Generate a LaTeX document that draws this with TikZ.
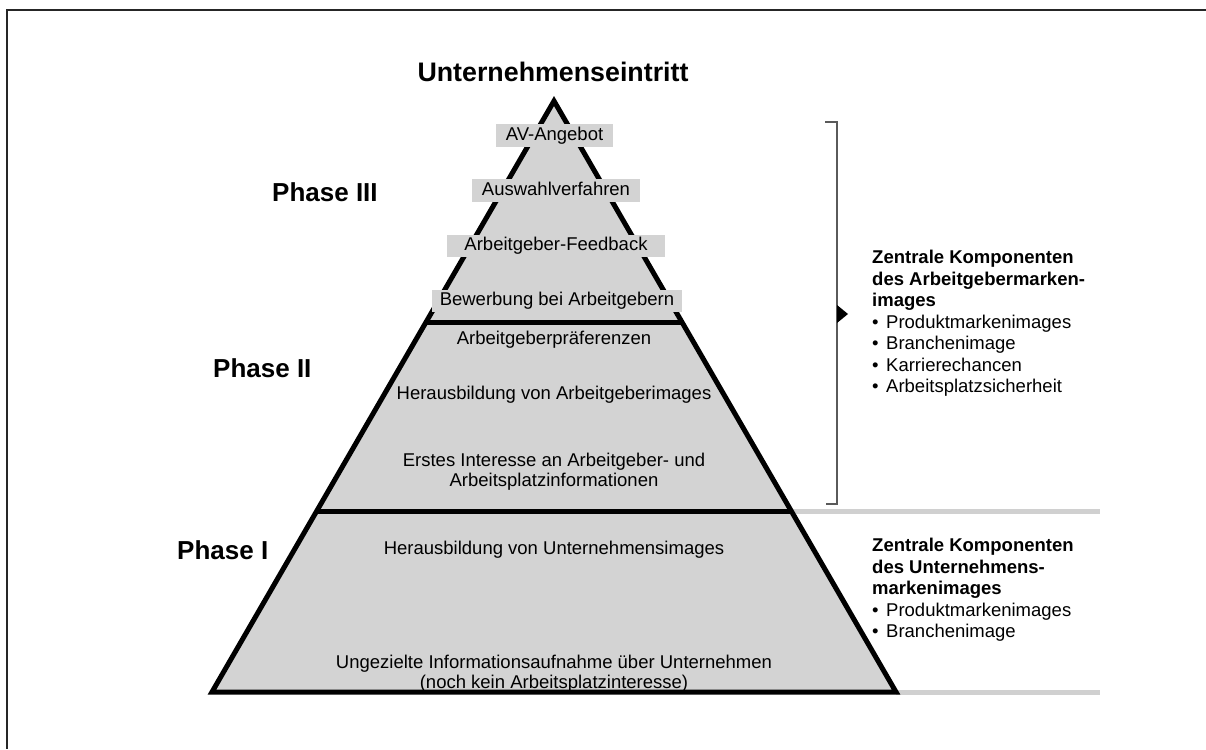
\documentclass[tikz,border=0pt]{standalone}
\usepackage{fontspec}
\setmainfont{Liberation Sans}
\usetikzlibrary{calc}
\definecolor{pyrfill}{RGB}{211,211,211}
\definecolor{sepgray}{RGB}{208,208,208}
\definecolor{bracketgray}{RGB}{90,90,90}
\begin{document}
\begin{tikzpicture}[x=1pt,y=-1pt,
  every node/.style={inner sep=0pt},
  body/.style={font=\fontsize{18.5}{20}\selectfont, align=center},
  stage/.style={font=\fontsize{18.5}{20}\selectfont, fill=pyrfill, inner xsep=0pt, inner ysep=2.5pt,
                text height=13.5pt, text depth=4pt},
  phase/.style={font=\fontsize{26}{30}\selectfont\bfseries, anchor=west},
  note/.style={font=\fontsize{18.5}{21.5}\selectfont, align=left, anchor=north west},
  outline/.style={line width=5pt, line join=miter},
  sep/.style={sepgray, line width=5pt},
]
\useasboundingbox (0,0) rectangle (1206,749);
\fill[white] (0,0) rectangle (1206,749);
% page frame (only top and left edges fall inside)
\draw[line width=2.8pt, black!85] (1206,10) -| (7,749);

% pyramid corners and phase dividers
\coordinate (apex) at (554,101);
\coordinate (bl) at (212,692);
\coordinate (br) at (896,692);
\coordinate (l3) at ($(apex)!0.374!(bl)$);
\coordinate (r3) at ($(apex)!0.374!(br)$);
\coordinate (l2) at ($(apex)!0.6954!(bl)$);
\coordinate (r2) at ($(apex)!0.6954!(br)$);

% grey separators to the right
\draw[sep] (r2) -- ++(308,0) coordinate (sepA);
\draw[sep] (br) -- ++(204,0) coordinate (sepB);

% pyramid
\fill[pyrfill] (apex) -- (bl) -- (br) -- cycle;
\draw[outline] (apex) -- (bl) -- (br) -- cycle;
\draw[outline] (l3) -- (r3);
\draw[outline] (l2) -- (r2);

% title
\node[font=\fontsize{26.8}{30}\selectfont\bfseries] (top) at (553,72) {Unternehmenseintritt};

% phase labels
\node[phase] (p3) at (272,192) {Phase III};
\node[phase] (p2) at (213,368) {Phase II};
\node[phase] (p1) at (177,550) {Phase I};

% phase III stages
\node[stage, minimum width=117pt] (s1) at (554.5,135.5) {AV-Angebot};
\node[stage, minimum width=168pt] (s2) at (556,190.5) {Auswahlverfahren};
\node[stage, minimum width=218pt] (s3) at (556,246) {Arbeitgeber-Feedback};
\node[stage, minimum width=250pt] (s4) at (557,301) {Bewerbung bei Arbeitgebern};

% phase II stages
\node[body] (t1) at (554,340) {Arbeitgeberpräferenzen};
\node[body] (t2) at (554,395) {Herausbildung von Arbeitgeberimages};
\node[body] (t3) at (554,472) {Erstes Interesse an Arbeitgeber- und\\Arbeitsplatzinformationen};

% phase I stages
\node[body] (t4) at (554,550) {Herausbildung von Unternehmensimages};
\node[body] (t5) at (554,674) {Ungezielte Informationsaufnahme über Unternehmen\\(noch kein Arbeitsplatzinteresse)};

% bracket over phases II and III
\draw[bracketgray, line width=1.5pt] (825,122) -- (837,122) -- (837,504) -- (826,504);
\fill (837,305) -- (848,314) -- (837,323) -- cycle;

% component lists
\node[note] (c1) at (872,250) {\textbf{Zentrale Komponenten}\\
  \textbf{des Arbeitgebermarken-}\\
  \textbf{images}\\
  \makebox[14pt][l]{\textbullet}Produktmarkenimages\\
  \makebox[14pt][l]{\textbullet}Branchenimage\\
  \makebox[14pt][l]{\textbullet}Karrierechancen\\
  \makebox[14pt][l]{\textbullet}Arbeitsplatzsicherheit};
\node[note] (c2) at (872,538) {\textbf{Zentrale Komponenten}\\
  \textbf{des Unternehmens-}\\
  \textbf{markenimages}\\
  \makebox[14pt][l]{\textbullet}Produktmarkenimages\\
  \makebox[14pt][l]{\textbullet}Branchenimage};
\end{tikzpicture}
\end{document}
